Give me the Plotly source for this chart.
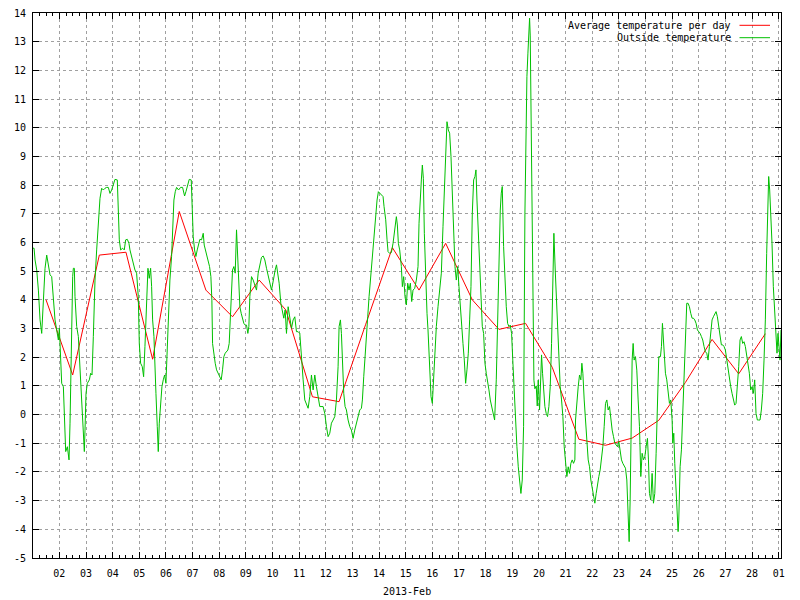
import pandas as pd
import plotly.graph_objects as go

# ---------------- data ----------------
month_start = "2013-02-01"

# daily average temperature (plotted at noon of each day, Feb 1..Feb 28)
avg_day_index = list(range(28))
avg_temps = [4.0, 1.38, 5.56, 5.66, 1.93, 7.08, 4.34, 3.41, 4.69, 3.65,
             0.62, 0.45, 3.15, 5.82, 4.34, 5.97, 4.0, 2.97, 3.18, 1.65,
             -0.86, -1.07, -0.82, -0.2, 1.12, 2.62, 1.42, 2.82]

# outside temperature readings: hours since Feb 1 00:00 and value
out_hours = [
    0.25, 1.2, 2.1, 3.6, 5.1, 6.6, 8.1, 9.6, 11.1, 12.6, 14.1, 15.6, 17.1, 18.6, 20.1, 21.6, 23.1, 24.0, 24.6,
    26.1, 27.6, 28.5, 29.7, 31.2, 32.7, 33.6, 34.5, 35.1, 36.0, 36.6, 37.5, 38.1, 39.6, 41.1, 42.6, 44.1,
    45.6, 46.5, 47.1, 48.0, 49.2, 51.0, 52.2, 53.4, 54.6, 56.1, 57.6, 59.1, 60.6, 62.1, 63.6, 65.1, 66.6,
    68.1, 69.6, 71.1, 72.6, 74.1, 76.2, 77.1, 78.0, 79.2, 81.0, 82.5, 83.7, 85.2, 86.7, 87.6, 89.1, 90.6,
    92.1, 93.6, 95.1, 96.0, 97.2, 98.7, 99.9, 101.1, 102.6, 103.8, 105.0,
    106.2, 107.1, 108.0, 109.2, 110.1, 111.0, 112.2, 113.1, 114.0, 115.2, 116.4, 117.6, 118.8, 120.0,
    121.2, 122.4, 123.6, 125.1, 126.0, 127.2, 128.4, 129.6, 131.4, 133.2, 135.0, 136.8, 138.0, 139.2,
    140.4, 141.0, 142.8, 143.7, 144.6, 145.8, 147.0, 148.2, 149.4, 150.6, 152.1, 153.6, 154.5, 155.7,
    156.9, 158.1, 159.3, 160.5, 161.4, 162.0, 163.2, 164.4, 165.6, 167.1, 168.6, 169.8, 171.0, 172.2,
    173.4, 174.6, 175.8, 177.0, 178.2, 179.1, 180.0, 181.2, 182.4, 183.6, 184.5, 185.4, 186.6, 187.8,
    189.0, 190.2, 191.4, 192.6, 193.8, 194.7, 195.6, 197.1, 198.6, 200.1, 201.6, 203.1, 204.6, 206.1,
    207.6, 209.1, 210.6, 212.1, 213.6, 215.1, 216.0, 217.2, 218.4, 219.6, 220.8, 222.0,
    223.5, 225.0, 226.2, 227.4, 228.6, 230.1, 231.6, 233.1, 234.6, 236.1, 237.6, 239.1, 240.6, 242.1,
    243.6, 245.1, 246.6, 248.1, 249.6, 251.1, 252.6, 254.1, 255.6, 257.1, 258.6, 261.6, 263.1, 264.6,
    266.1, 267.6, 269.1, 270.6, 272.1, 273.6, 275.1, 276.0, 277.2, 278.1, 279.0, 280.2, 281.4, 282.6,
    284.1, 285.6, 287.1, 288.6, 290.1, 291.6, 293.1, 294.6, 296.1, 297.0, 298.2, 299.4, 300.6, 301.8,
    303.0, 304.2, 305.4, 306.6, 307.8, 309.0, 310.2, 311.4, 312.6, 314.1, 315.6, 316.5, 318.0, 319.2,
    320.1, 321.6, 323.1, 324.6, 326.1, 327.6, 328.5, 329.4, 330.6, 332.1, 333.0, 334.2, 335.4, 336.6,
    337.8, 339.0, 340.2, 341.4, 342.6, 344.1, 345.6, 347.1, 348.0, 349.2, 350.1, 351.0, 351.9, 352.8,
    354.0, 355.2, 356.1, 357.6, 358.8, 360.0, 361.2, 362.4, 363.6, 365.1, 366.6, 368.1, 369.6, 370.8,
    372.0, 373.2, 374.4, 375.6, 376.8, 378.0, 379.2, 380.4, 381.6, 382.8, 384.0, 385.2, 386.4, 387.6,
    388.8, 390.0, 391.2, 392.4, 393.6, 394.8, 396.0, 397.2, 398.4, 399.3, 400.2, 401.4, 402.6, 403.8,
    405.0, 406.2, 407.4, 408.6, 409.8, 411.0, 412.2, 413.4, 414.6, 416.1, 417.6, 418.8, 420.0, 421.2,
    422.1, 423.0, 424.2, 425.4, 426.6, 427.8, 429.0, 430.2, 431.4, 432.6, 433.8, 435.0, 436.2, 437.4,
    438.6, 439.8, 441.0, 442.2,
    443.4, 444.0, 444.6, 445.2, 446.1, 447.0, 447.6, 448.2, 448.5, 449.1, 449.7, 450.6, 451.5, 452.4,
    453.6, 454.5, 455.4, 456.6,
    457.5, 458.4, 459.3, 460.2, 461.4, 462.6, 463.8, 465.0, 466.2, 467.4, 468.6, 469.5, 470.7, 471.6,
    472.8, 474.0, 475.2, 476.4, 477.6, 478.8, 480.0, 481.2, 482.4, 483.6, 484.8, 486.0, 487.2, 488.4,
    489.0, 490.2, 491.4, 492.6, 493.8, 494.7, 495.6, 496.8, 498.0, 499.2, 500.4, 501.6, 502.8, 504.0,
    505.2, 506.4, 507.6, 508.8, 510.0, 511.2, 512.4, 513.6, 514.8, 516.0, 517.2, 518.4, 519.6, 520.8,
    522.0, 523.2, 524.4, 525.6, 526.8, 528.0, 529.2, 530.4, 531.6, 532.8, 534.0, 535.2, 536.4, 537.3,
    538.2, 539.1, 540.0, 540.9, 541.8, 543.0, 544.2, 545.4, 546.6, 547.8, 549.0, 550.2, 551.4, 552.6,
    553.8, 554.7, 555.6, 556.8, 558.0, 559.2, 560.4, 561.6, 562.8,
    564.0, 565.5, 566.4, 567.3, 568.2, 569.1, 570.0, 571.2, 572.4, 573.6, 574.8, 576.0, 576.6, 577.5,
    578.4, 579.6, 580.8, 581.4, 582.0, 583.2, 584.4, 585.6, 586.8, 588.0, 589.2, 590.4, 591.6, 592.8,
    594.0, 595.2, 596.4, 597.6, 598.8, 600.0, 601.2, 602.4, 603.6, 604.8, 606.0, 607.2, 608.4, 609.6,
    610.8, 612.0, 613.2, 614.4, 615.6, 616.8, 618.0, 619.2, 620.4, 621.6, 622.8, 624.0, 625.2, 626.4,
    627.6, 628.8, 630.0, 631.2, 632.4, 633.6, 634.8, 636.0, 637.2, 638.4, 639.6, 640.8, 642.0, 643.2,
    644.4, 645.6, 646.8, 648.0, 649.2, 650.4, 651.6, 652.8, 654.0, 655.2, 656.4, 657.6, 658.8, 660.0,
    661.2, 662.1, 663.0, 663.9, 664.8, 666.0, 667.2, 668.4, 669.6, 670.5, 671.4, 672.3, 673.2, 674.1,
]
out_temps = [
    5.8, 5.80, 5.39, 5.04, 4.34, 3.30, 2.83, 4.11, 5.10, 5.56, 5.27, 4.87, 4.81, 4.11, 3.30, 2.95, 2.60, 3.01, 2.25,
    1.09, 0.97, -0.42, -1.29, -1.12, -1.58, -0.30, 1.79, 4.11, 4.81, 5.10, 5.10, 4.11, 3.07, 2.72, 1.67, 0.63,
    -0.42, -1.29, -0.54, 0.74, 1.09, 1.21, 1.44, 1.38, 2.72, 4.69, 5.74, 6.90, 7.54, 7.89, 7.83, 7.89, 7.92,
    7.92, 7.71, 7.83, 8.06, 8.20, 8.18, 7.19, 6.09, 5.74, 5.80, 5.74, 6.09, 6.11, 5.97, 5.74, 5.51, 5.27,
    5.04, 4.93, 4.11, 2.48, 1.79, 1.67, 1.32, 2.37, 4.34, 5.10, 4.75,
    5.10, 4.46, 3.30, 2.72, 1.21, 0.74, -0.42, -1.29, -0.30, 0.39, 0.97, 1.21, 1.38, 1.09,
    2.25, 3.76, 4.69, 5.51, 6.55, 7.48, 7.77, 7.92, 7.83, 7.92, 7.92, 7.62, 7.77, 7.92,
    8.06, 8.20, 8.18, 7.19, 6.20, 5.74, 5.51, 5.74, 5.97, 6.11, 6.09, 6.32, 5.91, 5.74,
    5.56, 5.33, 5.16, 4.81, 3.99, 2.48, 2.02, 1.79, 1.56, 1.44, 1.32, 1.21, 1.56, 2.02,
    2.14, 2.19, 2.25, 2.48, 3.53, 4.34, 5.04, 5.16, 4.93, 6.44, 5.62, 4.34, 3.76, 3.53,
    3.30, 3.18, 3.12, 3.12, 2.83, 3.07, 4.11, 4.81, 4.69, 4.52, 4.34, 4.93, 5.27, 5.48,
    5.53, 5.39, 5.10, 4.81, 4.58, 4.34, 4.52, 4.81, 5.04, 5.22, 4.93, 4.58,
    3.88, 3.53, 3.36, 3.65, 2.83, 3.76, 3.30, 3.01, 3.30, 3.41, 2.89, 2.89, 2.83, 1.90,
    1.21, 0.51, 0.33, 0.22, 0.63, 1.38, 0.86, 1.38, 0.97, 0.63, 0.28, 0.28, 0.04, -0.42,
    -0.77, -0.65, -0.30, -0.19, -0.07, 0.51, 1.67, 3.07, 3.30, 2.83, 1.79, 0.74, 0.28, 0.16,
    -0.19, -0.42, -0.54, -0.83, -0.54, -0.30, -0.07, 0.16, 0.22, 0.51, 1.32, 2.14, 2.83, 3.41,
    4.11, 4.69, 5.04, 5.62, 6.32, 7.02, 7.48, 7.77, 7.72, 7.66, 7.60, 7.25, 6.79, 6.09,
    5.68, 5.62, 5.65, 5.97, 6.55, 6.90, 6.61, 5.97, 5.74, 5.16, 4.46, 4.81, 4.11, 3.82,
    4.58, 4.34, 4.58, 3.94, 4.34, 4.40, 4.69, 5.16, 6.67, 7.72, 8.18, 8.70, 8.24, 6.32,
    4.69, 3.53, 2.95, 1.79, 0.63, 0.39, 1.44, 2.48, 3.07, 3.76, 4.34, 4.93, 6.55, 7.83,
    8.65, 10.21, 9.92, 9.81, 9.00, 7.83, 6.55, 5.16, 4.69, 5.16, 4.46, 3.65, 3.07, 2.48,
    1.90, 1.09, 1.56, 2.14, 3.30, 4.46, 7.02, 8.18, 8.30, 8.53, 7.48, 6.32, 5.16, 3.76,
    3.07, 2.83, 1.79, 1.44, 1.21, 0.86, 0.51, 0.28, 0.04, -0.19, 1.21, 3.30, 5.28, 7.13,
    7.72, 7.95, 5.86, 4.69, 3.76, 3.18, 3.07, 3.12, 2.83, 1.79, 0.63, -0.42, -1.12, -1.82,
    -2.28, -2.75, -2.28, -0.42,
    7.0, 9.0, 10.5, 11.78, 12.6, 13.41, 13.82, 13.2, 12.0, 8.53, 7.13, 3.0, 1.2, 0.9,
    1.0, 0.3, 1.2, 0.16,
    1.55, 2.08, 1.44, 0.74, 0.28, 0.04, -0.07, 0.28, 0.97, 2.48, 4.69, 6.32, 5.04, 4.23,
    3.07, 1.90, 0.97, 0.51, -0.07, -1.12, -1.82, -2.16, -1.82, -2.05, -1.70, -1.58, -1.70, -1.58,
    -0.19, 0.51, 0.97, 1.38, 1.21, 1.79, 1.44, 0.51, -0.42, -0.89, -1.58, -1.82, -2.28, -2.51,
    -2.75, -3.09, -2.75, -2.40, -2.16, -1.93, -1.58, -1.12, -0.42, 0.39, 0.51, 0.16, 0.28, -0.19,
    -0.54, -0.77, -1.00, -1.06, -1.12, -0.94, -1.35, -1.58, -1.70, -1.82, -1.87, -2.28, -3.56, -4.43,
    -2.98, -0.42, 1.90, 2.48, 1.90, 2.02, 1.55, 0.51, -0.42, -2.16, -1.35, -1.58, -1.47, -1.12,
    -0.83, -1.58, -2.75, -2.98, -2.05, -3.09, -2.75, -1.35, 0.16,
    2.02, 2.02, 2.37, 3.18, 2.60, 1.90, 1.44, 1.21, 0.74, 0.39, 0.51, -0.19, -1.00, -0.65,
    -1.70, -2.86, -3.56, -4.08, -3.68, -1.82, -1.23, 0.04, 1.67, 2.83, 3.88, 3.88, 3.76, 3.53,
    3.36, 3.36, 3.30, 3.18, 2.95, 2.89, 2.83, 2.72, 2.60, 2.37, 2.19, 2.14, 1.90, 2.37,
    2.95, 3.30, 3.41, 3.53, 3.59, 3.41, 3.07, 2.60, 2.43, 2.43, 2.37, 2.25, 1.90, 1.56,
    1.32, 0.97, 0.74, 0.51, 0.33, 0.39, 0.97, 1.67, 2.60, 2.72, 2.48, 2.54, 2.37, 2.02,
    1.67, 1.44, 0.86, 0.97, 0.74, 1.21, 0.04, -0.19, -0.19, -0.19, 0.16, 0.74, 1.90, 3.30,
    5.62, 7.25, 8.30, 7.83, 7.13, 5.97, 4.46, 3.53, 3.07, 2.14, 2.83, 2.37, 1.90, 2.95,
]

y_ticks = list(range(-5, 15))
legend_labels = ["Average temperature per day", "Outside temperature"]
x_title = "2013-Feb"

# ---------------- figure ----------------
base = pd.Timestamp(month_start)
avg_x = [base + pd.Timedelta(hours=12 + 24 * d) for d in avg_day_index]
out_x = [base + pd.Timedelta(hours=h) for h in out_hours]

RED = "#ff0000"
GREEN = "#00c000"
FONT = "DejaVu Sans Mono"
GRID = "#a0a0a0"

fig = go.Figure()
fig.add_trace(go.Scatter(x=avg_x, y=avg_temps, mode="lines",
                         line=dict(color=RED, width=1), name=legend_labels[0],
                         showlegend=False, hoverinfo="skip"))
fig.add_trace(go.Scatter(x=out_x, y=out_temps, mode="lines",
                         line=dict(color=GREEN, width=1), name=legend_labels[1],
                         showlegend=False, hoverinfo="skip"))

x_start = base + pd.Timedelta(minutes=15)
x_end = out_x[-1]

fig.update_xaxes(
    type="date", range=[x_start, x_end], automargin=False,
    tickmode="linear", tick0=base, dtick=86400000, tickformat="%d",
    ticks="inside", ticklen=6, tickcolor="black", tickwidth=1,
    showline=True, linecolor="black", linewidth=1, mirror="ticks",
    showgrid=True, gridcolor=GRID, gridwidth=1, griddash="3px,3px",
    zeroline=False, ticklabelstandoff=6,
    tickfont=dict(family=FONT, size=10, color="black"),
    minor=dict(ticks="inside", ticklen=3, dtick=21600000, tick0=base,
               tickcolor="black", showgrid=False),
)
fig.update_yaxes(
    range=[-5, 14], automargin=False, tickmode="array", tickvals=y_ticks,
    ticktext=[str(v) for v in y_ticks],
    ticks="inside", ticklen=6, tickcolor="black", tickwidth=1,
    showline=True, linecolor="black", linewidth=1, mirror="ticks",
    showgrid=True, gridcolor=GRID, gridwidth=1, griddash="3px,3px",
    zeroline=False, ticklabelstandoff=4,
    tickfont=dict(family=FONT, size=10, color="black"),
)

# legend (gnuplot style: text right-aligned, sample line at right)
plot_l, plot_r, plot_t, plot_b = 33, 781, 13, 558
pw, ph = plot_r - plot_l, plot_b - plot_t
legend_rows_px = [25.3, 37.7]
legend_colors = [RED, GREEN]
for label, ypx, col in zip(legend_labels, legend_rows_px, legend_colors):
    yp = (plot_b - ypx) / ph
    fig.add_annotation(x=(733 - plot_l) / pw, y=yp, xref="paper", yref="paper",
                       text=label, showarrow=False, xanchor="right", yanchor="middle",
                       font=dict(family=FONT, size=10, color="black"))
    fig.add_shape(type="line", xref="paper", yref="paper",
                  x0=(739.5 - plot_l) / pw, x1=(770 - plot_l) / pw, y0=yp, y1=yp,
                  line=dict(color=col, width=1))

fig.add_annotation(x=0.5, y=0, xref="paper", yref="paper", yshift=-33,
                   text=x_title, showarrow=False, xanchor="center", yanchor="middle",
                   font=dict(family=FONT, size=10, color="black"))

fig.update_layout(
    width=800, height=600,
    margin=dict(l=plot_l, r=800 - plot_r, t=plot_t, b=600 - plot_b, autoexpand=False),
    paper_bgcolor="white", plot_bgcolor="white",
    font=dict(family=FONT, size=10, color="black"),
)

fig.write_html("out.html")
